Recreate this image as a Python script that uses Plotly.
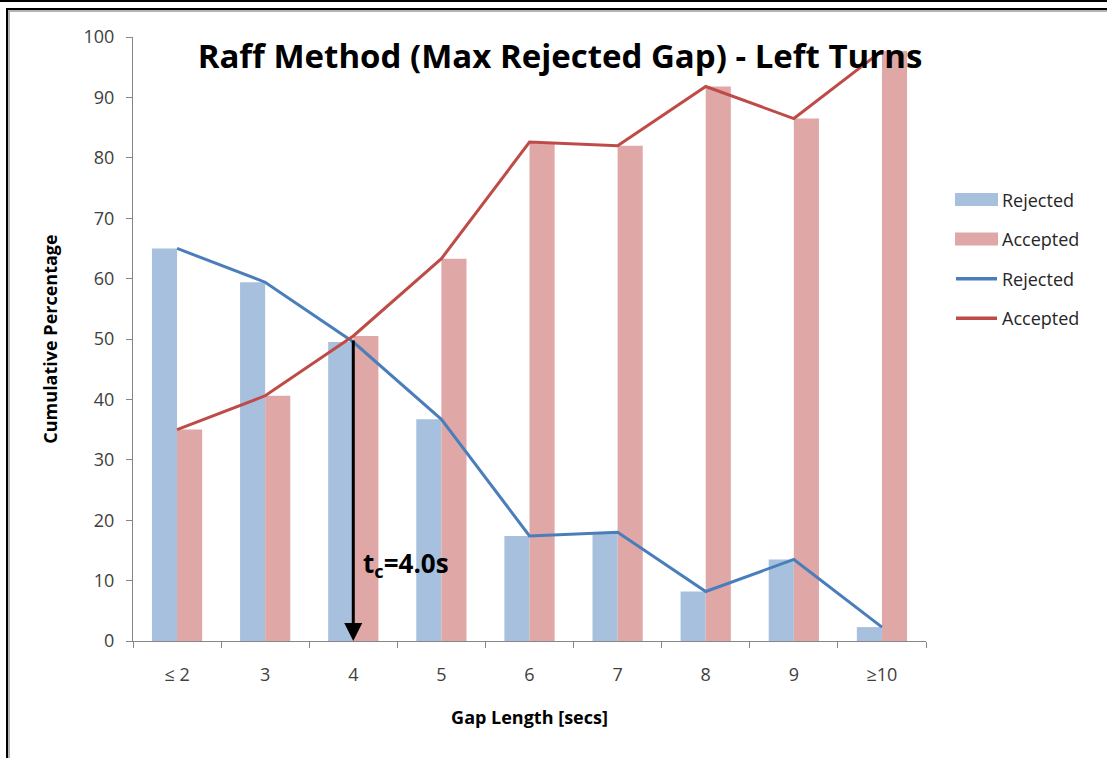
import plotly.graph_objects as go

categories = ["≤ 2", "3", "4", "5", "6", "7", "8", "9", "≥10"]
rejected = [65.0, 59.4, 49.5, 36.7, 17.4, 18.0, 8.2, 13.5, 2.3]
accepted = [35.0, 40.6, 50.5, 63.3, 82.6, 82.0, 91.8, 86.5, 97.7]
y_ticks = [0, 10, 20, 30, 40, 50, 60, 70, 80, 90, 100]
series_names = ["Rejected", "Accepted"]
critical_gap = "4"
critical_label = "t<sub>c</sub>=4.0s"

W, H = 1107, 758
L, R, T, B = 133, 181, 37, 117
PW, PH = W - L - R, H - T - B


def px(x):
    return (x - L) / PW


def py(y):
    return (H - B - y) / PH


FONT = "Open Sans"
BAR_BLUE = "#a7c0de"
BAR_RED = "#dfa7a6"
LINE_BLUE = "#4a7ebb"
LINE_RED = "#be4b48"

fig = go.Figure()
fig.add_trace(go.Bar(x=categories, y=rejected, name=series_names[0], marker_color=BAR_BLUE,
                     marker_line_width=0, showlegend=False))
fig.add_trace(go.Bar(x=categories, y=accepted, name=series_names[1], marker_color=BAR_RED,
                     marker_line_width=0, showlegend=False))
fig.add_trace(go.Scatter(x=categories, y=rejected, name=series_names[0], mode="lines",
                         line=dict(color=LINE_BLUE, width=3), showlegend=False))
fig.add_trace(go.Scatter(x=categories, y=accepted, name=series_names[1], mode="lines",
                         line=dict(color=LINE_RED, width=3), showlegend=False))

ci = categories.index(critical_gap)
cross = (rejected[ci] + accepted[ci]) / 2

fig.add_annotation(x=ci, y=0, ax=ci, ay=cross, xref="x", yref="y", axref="x", ayref="y",
                   showarrow=True, arrowhead=2, arrowsize=1.2, arrowwidth=3, arrowcolor="black",
                   text="")
fig.add_annotation(x=ci, y=12.8, xref="x", yref="y", text="<b>" + critical_label + "</b>",
                   showarrow=False, xanchor="left", xshift=8,
                   font=dict(family=FONT, size=26, color="black"))

shapes = [
    dict(type="line", xref="paper", yref="paper", x0=px(0), x1=px(W), y0=py(1), y1=py(1),
         line=dict(color="black", width=2)),
    dict(type="line", xref="paper", yref="paper", x0=px(6), x1=px(W), y0=py(9), y1=py(9),
         line=dict(color="black", width=2)),
    dict(type="line", xref="paper", yref="paper", x0=px(9), x1=px(W), y0=py(11), y1=py(11),
         line=dict(color="#b4b4b4", width=2)),
    dict(type="line", xref="paper", yref="paper", x0=px(7), x1=px(7), y0=py(8), y1=py(H),
         line=dict(color="black", width=2)),
    dict(type="line", xref="paper", yref="paper", x0=px(9), x1=px(9), y0=py(10), y1=py(H),
         line=dict(color="#b4b4b4", width=2)),
]

# legend (drawn manually to match the wide bar swatches)
leg_items = [("bar", BAR_BLUE, series_names[0]), ("bar", BAR_RED, series_names[1]),
             ("line", LINE_BLUE, series_names[0]), ("line", LINE_RED, series_names[1])]
leg_y0, leg_dy = 199.5, 39.6
for i, (kind, col, name) in enumerate(leg_items):
    yc = leg_y0 + i * leg_dy
    if kind == "bar":
        shapes.append(dict(type="rect", xref="paper", yref="paper", x0=px(955), x1=px(998),
                           y0=py(yc - 6.5), y1=py(yc + 6.5), fillcolor=col, line=dict(width=0)))
    else:
        shapes.append(dict(type="line", xref="paper", yref="paper", x0=px(956), x1=px(997),
                           y0=py(yc), y1=py(yc), line=dict(color=col, width=3.5)))
    fig.add_annotation(x=px(1000), y=py(yc), xref="paper", yref="paper", text=name,
                       showarrow=False, xanchor="left", yanchor="middle",
                       font=dict(family=FONT, size=18, color="#262626"))

fig.update_layout(
    width=W, height=H,
    margin=dict(l=L, r=R, t=T, b=B, autoexpand=False),
    paper_bgcolor="white", plot_bgcolor="white",
    barmode="group", bargap=0.43, bargroupgap=0,
    font=dict(family=FONT, color="#404040"),
    shapes=shapes,
    showlegend=False,
    title=dict(text="<b>Raff Method (Max Rejected Gap) - Left Turns</b>",
               xref="container", x=560 / W, xanchor="center", y=1 - 56 / H, yanchor="middle",
               font=dict(family=FONT, size=33, color="black")),
    xaxis=dict(type="category", showline=True, linecolor="#868686", linewidth=1,
               ticks="outside", tickson="boundaries", ticklen=6, tickcolor="#868686",
               tickfont=dict(family=FONT, size=18, color="#404040"),
               ticklabelstandoff=17, showgrid=False, zeroline=False,
               title=dict(text="<b>Gap Length [secs]</b>", standoff=26,
                          font=dict(family=FONT, size=18, color="black"))),
    yaxis=dict(range=[0, 100], tickvals=y_ticks, showline=True, linecolor="#868686", linewidth=1,
               ticks="outside", ticklen=6, tickcolor="#868686",
               tickfont=dict(family=FONT, size=18, color="#404040"),
               ticklabelstandoff=8, showgrid=False, zeroline=False,
               title=dict(text="<b>Cumulative Percentage</b>", standoff=21,
                          font=dict(family=FONT, size=18, color="black"))),
)

fig.write_html("out.html", config={"displayModeBar": False},
               post_script="document.body.style.margin='0';")
